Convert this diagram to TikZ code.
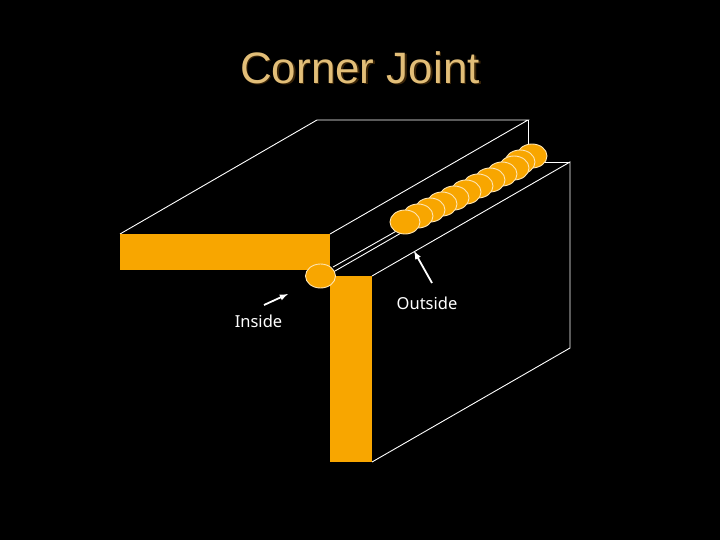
\documentclass[tikz,border=0pt]{standalone}
\usepackage{fontspec}
\setmainfont{Liberation Sans}
\newfontfamily\labelfont{Noto Sans}
\usepackage{tikz}
\usetikzlibrary{shapes}
\usetikzlibrary{arrows}
\definecolor{weldorange}{RGB}{248,166,0}
\definecolor{titletan}{RGB}{226,190,120}
\definecolor{titleshade}{RGB}{60,38,8}
\tikzset{
  plate_face/.style = {fill=weldorange},
  plate_edge/.style = {draw=white, line width=0.9pt},
  weld_bead/.style = {ellipse, draw=white!70!weldorange, fill=weldorange,
    line width=0.9pt, minimum width=30pt, minimum height=24pt, inner sep=0pt},
  note_text/.style = {white, font=\labelfont\fontsize{16.5}{18}\selectfont, inner sep=0pt},
  note_arrow/.style = {-latex, white, line width=1.8pt}
}

\begin{document}
\begin{tikzpicture}[x=1pt, y=-1pt]
    \fill [black] (0,0) rectangle (720,540);
    \useasboundingbox (0,0) rectangle (720,540);

    % title with its shadow
    \node [titleshade, font=\fontsize{44}{48}\selectfont, inner sep=0pt] (title_shadow) at (361.5,69) {Corner Joint};
    \node [titletan, font=\fontsize{44}{48}\selectfont, inner sep=0pt] (title) at (360,67.5) {Corner Joint};

    % top plate
    \draw [plate_edge] (120,234) -- (317,120) -- (528,120) -- (330,234);
    \draw [plate_edge] (528,120) -- (528,160);
    \fill [plate_face] (120,234) rectangle (330,270);

    % bottom plate
    \draw [plate_edge] (372,276) -- (570,162) -- (570,348) -- (372,462);
    \draw [plate_edge] (570,162) -- (540,162);
    \fill [plate_face] (330,276) rectangle (372,462);

    % edges of the joint
    \draw [plate_edge] (333,267) -- (400,229);
    \draw [plate_edge] (335,271) -- (408,229);

    % weld seen from the end
    \node [weld_bead] (end_bead) at (320.5,276) {};

    % weld along the corner
    \foreach \name/\x/\y in {a/532/156, b/520/162, c/514/168, d/502/174, e/490/180,
      f/478/186, g/466/192, h/454/198, i/442/204, j/430/210, k/418/216, l/405/222}
      \node [weld_bead] (bead_\name) at (\x,\y) {};

    % labels
    \node [note_text] (inside) at (258.5,321) {Inside};
    \node [note_text] (outside) at (427,303) {Outside};
    \coordinate (inside_tail) at (264,305);
    \coordinate (inside_head) at (288,294);
    \coordinate (outside_tail) at (432,283);
    \coordinate (outside_head) at (414,251);
    \draw [note_arrow] (inside_tail) -- (inside_head);
    \draw [note_arrow] (outside_tail) -- (outside_head);
\end{tikzpicture}
\end{document}
